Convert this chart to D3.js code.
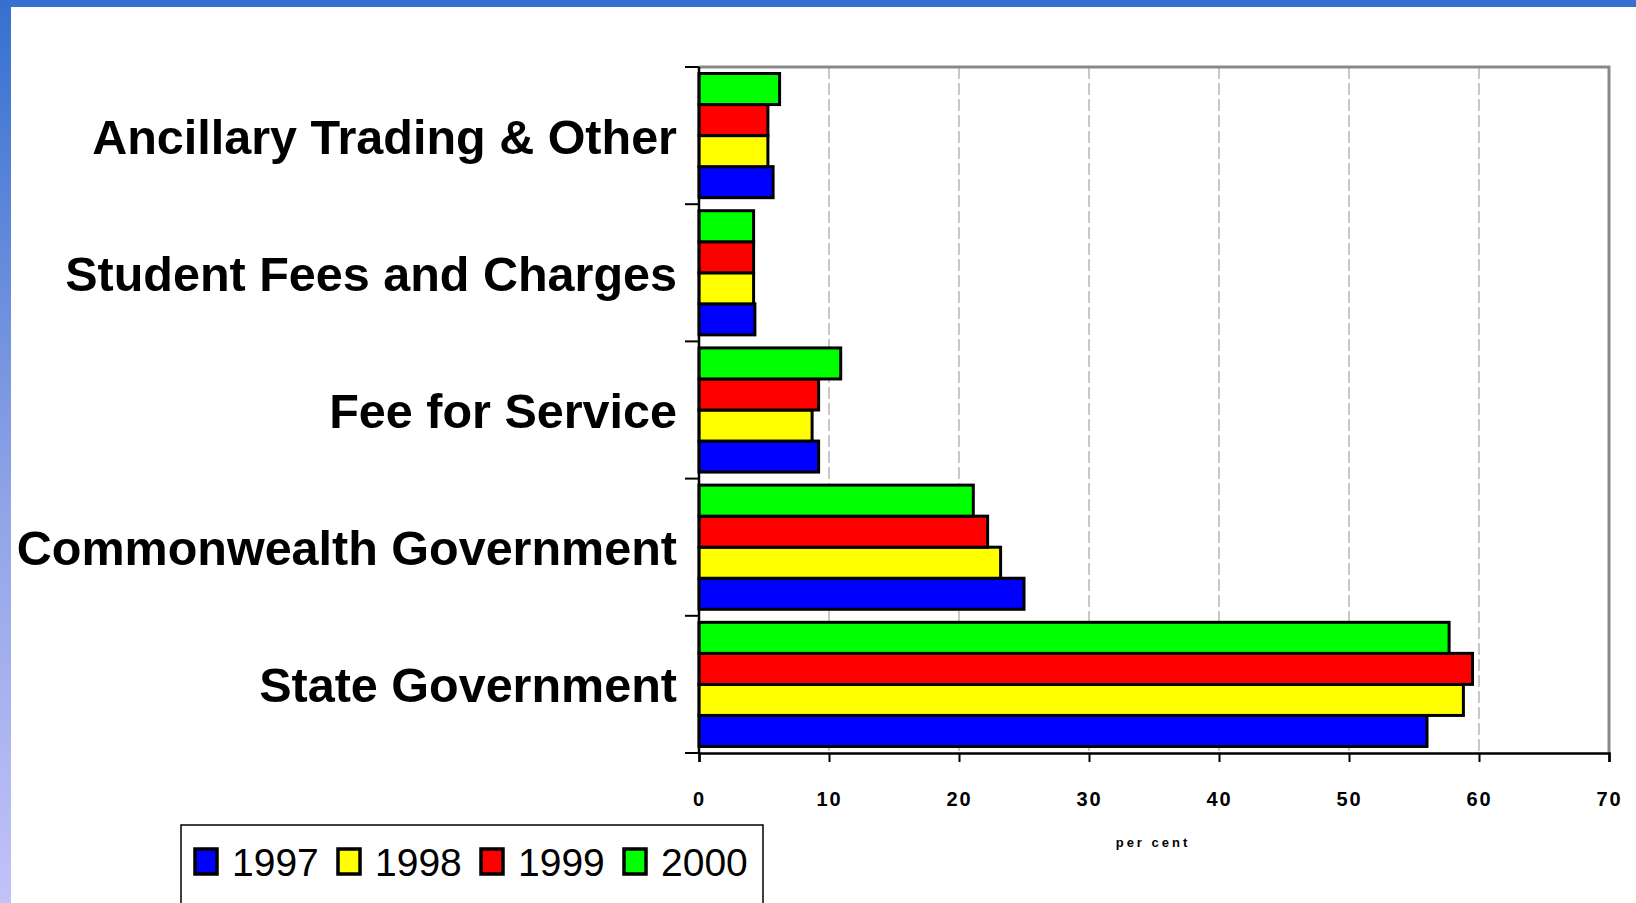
<!DOCTYPE html>
<html>
<head>
<meta charset="utf-8">
<script src="https://cdn.jsdelivr.net/npm/d3@7"></script>
<style>
  body { margin: 0; background: #fff; }
  svg { display: block; }
</style>
</head>
<body>
<div id="chart"></div>
<script>
const categories = [
  'Ancillary Trading & Other',
  'Student Fees and Charges',
  'Fee for Service',
  'Commonwealth Government',
  'State Government'
]
const years = ['1997', '1998', '1999', '2000']
const yearColors = ['#0000ff', '#ffff00', '#ff0000', '#00ff00']

const values1997 = [5.7, 4.3, 9.2, 25.0, 56.0]
const values1998 = [5.3, 4.2, 8.7, 23.2, 58.8]
const values1999 = [5.3, 4.2, 9.2, 22.2, 59.5]
const values2000 = [6.2, 4.2, 10.9, 21.1, 57.7]

const xTicks = [0, 10, 20, 30, 40, 50, 60, 70]

const seriesByYear = {
  1997: values1997,
  1998: values1998,
  1999: values1999,
  2000: values2000
}

const W = 1636
const H = 903
const plot = { left: 699, right: 1609, top: 67, bottom: 753 }

const svg = d3
  .select('#chart')
  .append('svg')
  .attr('width', W)
  .attr('height', H)

// slide border: blue top bar and fading left stripe
const defs = svg.append('defs')
const grad = defs
  .append('linearGradient')
  .attr('id', 'side')
  .attr('x1', 0).attr('y1', 0).attr('x2', 0).attr('y2', 1)
grad.append('stop').attr('offset', '0%').attr('stop-color', '#3670d0')
grad.append('stop').attr('offset', '55%').attr('stop-color', '#8fa3e6')
grad.append('stop').attr('offset', '100%').attr('stop-color', '#c2c2f8')

svg.append('rect').attr('x', 0).attr('y', 0).attr('width', 11).attr('height', H).attr('fill', 'url(#side)')
svg.append('rect').attr('x', 0).attr('y', 0).attr('width', W).attr('height', 7).attr('fill', '#3670d0')

const xScale = d3.scaleLinear().domain([0, 70]).range([plot.left, plot.right])

const yScale = d3.scaleBand().domain(categories).range([plot.top, plot.bottom])

const yearOrder = years.slice().reverse() // 2000 on top within each group
const ySub = d3
  .scaleBand()
  .domain(yearOrder)
  .range([0, yScale.bandwidth()])
  .paddingOuter(0.21)

const colorScale = d3.scaleOrdinal().domain(years).range(yearColors)

// dashed grid lines
svg
  .append('g')
  .selectAll('line')
  .data(xTicks.filter(d => d > 0 && d < 70))
  .enter()
  .append('line')
  .attr('x1', d => xScale(d))
  .attr('x2', d => xScale(d))
  .attr('y1', plot.top)
  .attr('y2', plot.bottom)
  .attr('stroke', '#c8c8c8')
  .attr('stroke-width', 2)
  .attr('stroke-dasharray', '12,4')

// grey frame top and right
svg
  .append('path')
  .attr('d', `M${plot.left},${plot.top}H${plot.right}V${plot.bottom}`)
  .attr('fill', 'none')
  .attr('stroke', '#888')
  .attr('stroke-width', 3)

// bars
const rows = []
categories.forEach((c, i) => {
  years.forEach(y => {
    rows.push({ category: c, year: y, value: seriesByYear[y][i] })
  })
})

svg
  .append('g')
  .selectAll('rect')
  .data(rows)
  .enter()
  .append('rect')
  .attr('x', xScale(0))
  .attr('y', d => yScale(d.category) + ySub(d.year))
  .attr('width', d => xScale(d.value) - xScale(0))
  .attr('height', ySub.bandwidth())
  .attr('fill', d => colorScale(d.year))
  .attr('stroke', '#000')
  .attr('stroke-width', 3)

// x axis
const xAxis = d3
  .axisBottom(xScale)
  .tickValues(xTicks)
  .tickSize(9)
  .tickPadding(30)

const xg = svg
  .append('g')
  .attr('transform', `translate(0,${plot.bottom})`)
  .call(xAxis)
xg.select('.domain').attr('stroke', '#000').attr('stroke-width', 2.5)
xg.selectAll('.tick line').attr('stroke', '#000').attr('stroke-width', 2)
xg.selectAll('.tick text')
  .attr('fill', '#000')
  .style('font-family', '"Liberation Sans", Arial, sans-serif')
  .style('font-weight', 'bold')
  .style('font-size', '20px')
  .style('letter-spacing', '2px')

// y axis: ticks at category boundaries
const boundaries = categories.map(c => yScale(c)).concat([plot.bottom])
const yg = svg.append('g')
yg.append('line')
  .attr('x1', plot.left).attr('x2', plot.left)
  .attr('y1', plot.top).attr('y2', plot.bottom)
  .attr('stroke', '#000').attr('stroke-width', 2.5)
yg.selectAll('.btick')
  .data(boundaries)
  .enter()
  .append('line')
  .attr('class', 'btick')
  .attr('x1', plot.left - 14).attr('x2', plot.left)
  .attr('y1', d => d).attr('y2', d => d)
  .attr('stroke', '#000').attr('stroke-width', 2)

// category labels
svg
  .append('g')
  .selectAll('text')
  .data(categories)
  .enter()
  .append('text')
  .attr('x', 677)
  .attr('y', d => yScale(d) + yScale.bandwidth() / 2 + 1)
  .attr('dy', '0.35em')
  .attr('text-anchor', 'end')
  .style('font-family', '"Liberation Sans", Arial, sans-serif')
  .style('font-weight', 'bold')
  .style('font-size', '48.5px')
  .text(d => d)

// axis title
svg
  .append('text')
  .attr('x', 1153)
  .attr('y', 847)
  .attr('text-anchor', 'middle')
  .style('font-family', '"Liberation Sans", Arial, sans-serif')
  .style('font-weight', 'bold')
  .style('font-size', '13px')
  .style('letter-spacing', '3px')
  .text('per cent')

// legend
const legend = svg.append('g')
legend
  .append('rect')
  .attr('x', 181)
  .attr('y', 825)
  .attr('width', 582)
  .attr('height', 100)
  .attr('fill', '#fff')
  .attr('stroke', '#000')
  .attr('stroke-width', 1.5)

const legendX = d3.scalePoint().domain(years).range([195, 624])

const items = legend
  .selectAll('.item')
  .data(years)
  .enter()
  .append('g')
  .attr('class', 'item')
  .attr('transform', d => `translate(${legendX(d)},0)`)

items
  .append('rect')
  .attr('x', 0)
  .attr('y', 849)
  .attr('width', 22)
  .attr('height', 25)
  .attr('fill', d => colorScale(d))
  .attr('stroke', '#000')
  .attr('stroke-width', 3.5)

items
  .append('text')
  .attr('x', 37)
  .attr('y', 862)
  .attr('dy', '0.36em')
  .style('font-family', '"Liberation Sans", Arial, sans-serif')
  .style('font-size', '39px')
  .text(d => d)
</script>
</body>
</html>
